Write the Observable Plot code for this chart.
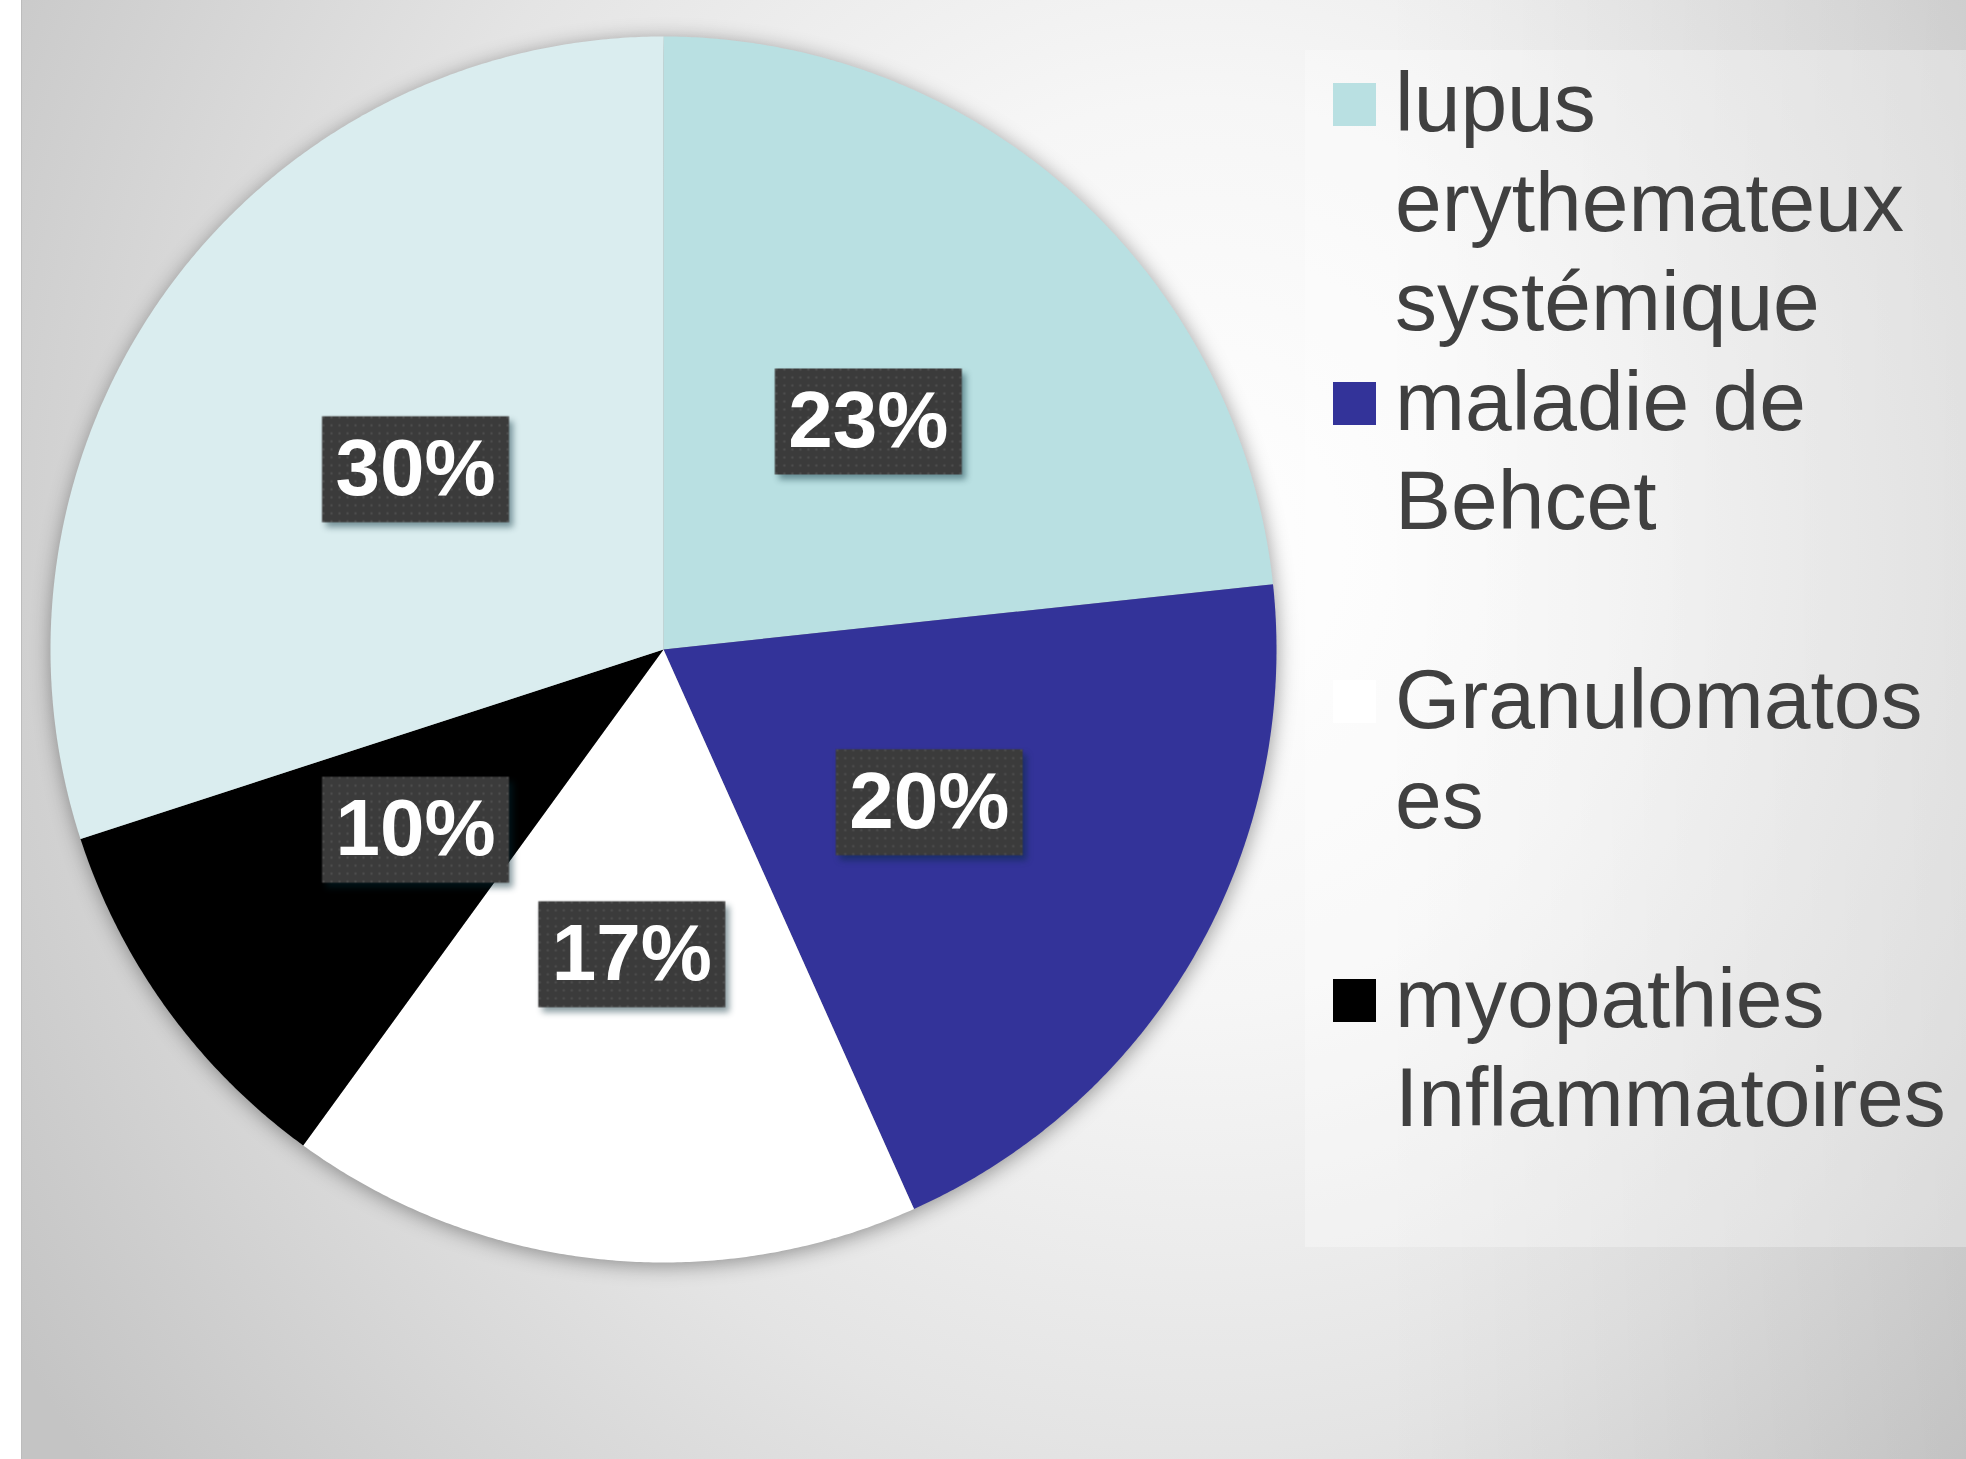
<!DOCTYPE html>
<html>
<head>
<meta charset="utf-8">
<script src="https://cdn.jsdelivr.net/npm/d3@7"></script>
<script src="https://cdn.jsdelivr.net/npm/@observablehq/plot@0.6"></script>
<style>
  html, body { margin: 0; padding: 0; background: #ffffff; width: 1966px; height: 1459px; overflow: hidden; }
  #bg { position: absolute; left: 21px; top: 0; width: 1945px; height: 1459px;
        background:
          linear-gradient(to right, rgba(0,0,0,0) 0%, rgba(0,0,0,0) 70%, rgba(0,0,0,0.08) 100%),
          radial-gradient(ellipse 1400px 1500px at 1180px 550px, #ffffff 0%, #f6f6f6 30%, #e4e4e4 60%, #d4d4d4 80%, #c4c4c4 100%);
        box-shadow: inset 1px 0 0 #bcbcbc; }
  #legendBox { position: absolute; left: 1305px; top: 50px; width: 661px; height: 1197px; background: rgba(255,255,255,0.3); }
  #chart { position: absolute; left: 0; top: 0; }
  #legend { position: absolute; left: 1333px; top: 53px; font-family: "Liberation Sans", Arial, sans-serif;
            font-size: 84px; line-height: 99.5px; color: #404040; }
  .item { position: relative; height: 298.5px; padding-left: 62px; }
  .sw { position: absolute; left: 0; top: 30px; width: 43px; height: 43px; }
  .line { white-space: nowrap; }
</style>
</head>
<body>
<div id="bg"></div>
<div id="legendBox"></div>
<div id="chart"></div>
<div id="legend"></div>
<script>
const categories = ["lupus erythemateux systémique", "maladie de Behcet", "Granulomatoses", "myopathies Inflammatoires", "Autres"];
const values = [23.3, 20.0, 16.7, 10.0, 30.0];
const labels = ["23%", "20%", "17%", "10%", "30%"];
const colors = ["#b9e0e2", "#333399", "#ffffff", "#000000", "#daedef"];
const legendLines = [["lupus", "erythemateux", "systémique"], ["maladie de", "Behcet"], ["Granulomatos", "es"], ["myopathies", "Inflammatoires"]];

const data = categories.map((c, i) => ({category: c, value: values[i], label: labels[i]}));
const arcs = d3.pie().sort(null).value(d => d.value)(data);

// wedges in unit coordinates (x = sin, y = -cos : clockwise from 12 o'clock)
const slices = arcs.map(a => {
  const n = Math.max(2, Math.ceil((a.endAngle - a.startAngle) * 150));
  const ring = [[0, 0]];
  for (let k = 0; k <= n; k++) {
    const t = a.startAngle + (a.endAngle - a.startAngle) * k / n;
    ring.push([Math.sin(t), -Math.cos(t)]);
  }
  ring.push([0, 0]);
  return {type: "Feature", properties: {category: a.data.category}, geometry: {type: "Polygon", coordinates: [ring]}};
});
const labelPts = arcs.map(a => {
  const m = (a.startAngle + a.endAngle) / 2;
  return {label: a.data.label, x: 0.5 * Math.sin(m), y: -0.5 * Math.cos(m)};
});

const boxSymbol = {
  draw(ctx, size) {
    const s = Math.sqrt(size / Math.PI);
    ctx.rect(-9.35 * s, -5.3 * s, 18.7 * s, 10.6 * s);
  }
};

const chart = Plot.plot({
  width: 1966,
  height: 1459,
  marginLeft: 50,
  marginTop: 36,
  marginRight: 690,
  marginBottom: 197,
  style: {background: "transparent", overflow: "visible"},
  projection: {type: () => d3.geoIdentity(), domain: {type: "MultiPoint", coordinates: [[-1, -1], [1, 1]]}},
  color: {domain: categories, range: colors},
  marks: [
    Plot.geo(slices, {fill: d => d.properties.category}),
    Plot.dot(labelPts, {x: "x", y: "y", r: 10, symbol: boxSymbol, fill: "#3c3c3c", stroke: "none"}),
    Plot.text(labelPts, {x: "x", y: "y", text: "label", fill: "white", fontSize: 80, fontWeight: "bold",
      fontFamily: "Liberation Sans, Arial, sans-serif"})
  ]
});
document.getElementById("chart").appendChild(chart);

// decorations: pattern on label boxes and soft shadows
const ns = "http://www.w3.org/2000/svg";
const defs = document.createElementNS(ns, "defs");
defs.innerHTML = '<pattern id="dots" width="8" height="8" patternUnits="userSpaceOnUse">' +
  '<rect width="8" height="8" fill="#3b3b3b"></rect><circle cx="4" cy="4" r="1.2" fill="#4f4f4f"></circle></pattern>';
chart.insertBefore(defs, chart.firstChild);
const geoG = chart.querySelector('g[aria-label="geo"]');
if (geoG) geoG.style.filter = "drop-shadow(1px 3px 10px rgba(0,0,0,0.38))";
const dotG = chart.querySelector('g[aria-label="dot"]');
if (dotG) {
  dotG.style.filter = "drop-shadow(4px 5px 3px rgba(0,40,50,0.45))";
  dotG.querySelectorAll("path").forEach(p => p.setAttribute("fill", "url(#dots)"));
}

// legend
const legend = document.getElementById("legend");
legendLines.forEach((lines, i) => {
  const item = document.createElement("div");
  item.className = "item";
  const sw = document.createElement("div");
  sw.className = "sw";
  sw.style.background = colors[i];
  item.appendChild(sw);
  lines.forEach(t => {
    const l = document.createElement("div");
    l.className = "line";
    l.textContent = t;
    item.appendChild(l);
  });
  legend.appendChild(item);
});
</script>
</body>
</html>
